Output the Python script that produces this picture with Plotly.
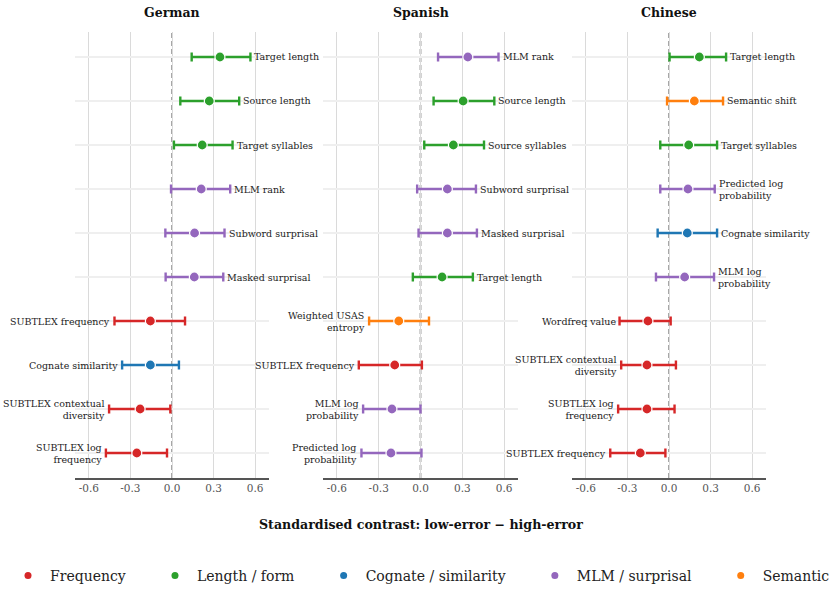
import plotly.graph_objects as go

# ---------------- data ----------------
categories = ["Frequency", "Length / form", "Cognate / similarity", "MLM / surprisal", "Semantic"]
cat_colors = ["#d62728", "#2ca02c", "#1f77b4", "#9467bd", "#ff7f0e"]
languages = ["German", "Spanish", "Chinese"]

german_labels = ["Target length", "Source length", "Target syllables", "MLM rank",
                 "Subword surprisal", "Masked surprisal", "SUBTLEX frequency",
                 "Cognate similarity", "SUBTLEX contextual<br>diversity", "SUBTLEX log<br>frequency"]
german_cat = ["Length / form", "Length / form", "Length / form", "MLM / surprisal",
              "MLM / surprisal", "MLM / surprisal", "Frequency",
              "Cognate / similarity", "Frequency", "Frequency"]
german_est = [0.346, 0.269, 0.218, 0.211, 0.163, 0.161, -0.156, -0.156, -0.230, -0.254]
german_lo = [0.142, 0.060, 0.014, -0.007, -0.048, -0.046, -0.415, -0.360, -0.454, -0.477]
german_hi = [0.566, 0.485, 0.437, 0.420, 0.379, 0.370, 0.094, 0.050, -0.012, -0.036]

spanish_labels = ["MLM rank", "Source length", "Source syllables", "Subword surprisal",
                  "Masked surprisal", "Target length", "Weighted USAS<br>entropy",
                  "SUBTLEX frequency", "MLM log<br>probability", "Predicted log<br>probability"]
spanish_cat = ["MLM / surprisal", "Length / form", "Length / form", "MLM / surprisal",
               "MLM / surprisal", "Length / form", "Semantic",
               "Frequency", "MLM / surprisal", "MLM / surprisal"]
spanish_est = [0.340, 0.306, 0.236, 0.193, 0.193, 0.155, -0.156, -0.185, -0.205, -0.212]
spanish_lo = [0.126, 0.094, 0.027, -0.024, -0.014, -0.055, -0.369, -0.443, -0.412, -0.424]
spanish_hi = [0.560, 0.530, 0.456, 0.398, 0.405, 0.376, 0.061, 0.010, 0.000, 0.007]

chinese_labels = ["Target length", "Semantic shift", "Target syllables", "Predicted log<br>probability",
                  "Cognate similarity", "MLM log<br>probability", "Wordfreq value",
                  "SUBTLEX contextual<br>diversity", "SUBTLEX log<br>frequency", "SUBTLEX frequency"]
chinese_cat = ["Length / form", "Semantic", "Length / form", "MLM / surprisal",
               "Cognate / similarity", "MLM / surprisal", "Frequency",
               "Frequency", "Frequency", "Frequency"]
chinese_est = [0.219, 0.183, 0.142, 0.137, 0.132, 0.113, -0.152, -0.159, -0.159, -0.207]
chinese_lo = [0.004, -0.014, -0.063, -0.063, -0.082, -0.094, -0.357, -0.345, -0.367, -0.424]
chinese_hi = [0.412, 0.390, 0.347, 0.330, 0.347, 0.325, 0.012, 0.050, 0.040, -0.026]

tick_vals = [-0.6, -0.3, 0.0, 0.3, 0.6]
tick_text = ["-0.6", "-0.3", "0.0", "0.3", "0.6"]
x_title = "Standardised contrast: low-error \u2212 high-error"

panels = [
    (german_labels, german_cat, german_est, german_lo, german_hi),
    (spanish_labels, spanish_cat, spanish_est, spanish_lo, spanish_hi),
    (chinese_labels, chinese_cat, chinese_est, chinese_lo, chinese_hi),
]

# ---------------- layout geometry ----------------
W, H = 835, 592
ML, MR, MT, MB = 0, 0, 32, 114
panel_px = [(75, 269), (323, 518), (572, 766)]
domains = [[a / W, b / W] for a, b in panel_px]
plot_h = H - MT - MB
bottom_px = H - MB


def paper_y(py):
    return (bottom_px - py) / plot_h


FONT = "DejaVu Serif"
color_of = dict(zip(categories, cat_colors))
PAD = "\u00a0" * 5

fig = go.Figure()
annotations = []
shapes = []

for p, (labels, cats, est, lo, hi) in enumerate(panels):
    xa = "x" if p == 0 else f"x{p+1}"
    ya = "y" if p == 0 else f"y{p+1}"
    rows = list(range(1, len(labels) + 1))
    for cat in categories:
        idx = [i for i, c in enumerate(cats) if c == cat]
        if not idx:
            continue
        fig.add_trace(go.Scatter(
            x=[est[i] for i in idx], y=[rows[i] for i in idx],
            mode="markers", xaxis=xa, yaxis=ya, showlegend=False,
            marker=dict(size=10, color=color_of[cat], line=dict(color="white", width=1.2)),
            error_x=dict(type="data", symmetric=False,
                         array=[hi[i] - est[i] for i in idx],
                         arrayminus=[est[i] - lo[i] for i in idx],
                         color=color_of[cat], thickness=2.4, width=4.5),
            hoverinfo="skip",
        ))
    for i, lab in enumerate(labels):
        if est[i] > 0:
            annotations.append(dict(x=hi[i], y=rows[i], xref=xa, yref=ya, text=lab,
                                    xanchor="left", yanchor="middle", align="left",
                                    xshift=2, showarrow=False,
                                    font=dict(family=FONT, size=9.5, color="#222")))
        else:
            annotations.append(dict(x=lo[i], y=rows[i], xref=xa, yref=ya, text=lab,
                                    xanchor="right", yanchor="middle", align="right",
                                    xshift=-2, showarrow=False,
                                    font=dict(family=FONT, size=9.5, color="#222")))
    zl = dict(color="#8a8a8a", width=1.5, dash="5px,3px")
    if p == 1:
        zl = dict(color="#c4c4c4", width=2.5, dash="5px,3px")
    shapes.append(dict(type="line", xref=xa, yref=f"{ya} domain", x0=0, x1=0, y0=0, y1=1,
                       line=zl, layer="below"))
    annotations.append(dict(x=(domains[p][0] + domains[p][1]) / 2, y=paper_y(12),
                            xref="paper", yref="paper", text=f"<b>{languages[p]}</b>",
                            showarrow=False, xanchor="center", yanchor="middle",
                            font=dict(family=FONT, size=12.5, color="#111")))

for k, (cat, col) in enumerate(zip(categories, cat_colors)):
    fig.add_trace(go.Scatter(x=[None], y=[None], mode="markers",
                             name=cat + (PAD if k < len(categories) - 1 else ""),
                             marker=dict(size=7, color=col), showlegend=True))

annotations.append(dict(x=421 / W, y=paper_y(524), xref="paper", yref="paper",
                        text=f"<b>{x_title}</b>", showarrow=False,
                        xanchor="center", yanchor="middle",
                        font=dict(family=FONT, size=12.6, color="#111")))

layout = dict(
    width=W, height=H,
    margin=dict(l=ML, r=MR, t=MT, b=MB),
    plot_bgcolor="white", paper_bgcolor="white",
    font=dict(family=FONT, color="#222"),
    annotations=annotations, shapes=shapes,
    legend=dict(orientation="h", x=8 / W, xanchor="left", y=paper_y(576),
                yanchor="middle", font=dict(family=FONT, size=14, color="#222"),
                itemsizing="trace", itemwidth=34, bgcolor="rgba(0,0,0,0)"),
)
for p in range(3):
    xk = "xaxis" if p == 0 else f"xaxis{p+1}"
    yk = "yaxis" if p == 0 else f"yaxis{p+1}"
    ya = "y" if p == 0 else f"y{p+1}"
    xa = "x" if p == 0 else f"x{p+1}"
    layout[xk] = dict(domain=domains[p], anchor=ya, range=[-0.7, 0.7],
                      tickvals=tick_vals, ticktext=tick_text, ticks="",
                      showgrid=True, gridcolor="#dadada", gridwidth=1,
                      zeroline=False, showline=True, linecolor="#555", linewidth=1.5,
                      tickfont=dict(family=FONT, size=10.5, color="#555"),
                      fixedrange=True)
    layout[yk] = dict(domain=[0, 1], anchor=xa, range=[10.568, 0.432],
                      tickvals=list(range(1, 11)), showticklabels=False, ticks="",
                      showgrid=True, gridcolor="#efefef", gridwidth=1.5,
                      zeroline=False, showline=False, fixedrange=True)

fig.update_layout(**layout)
fig.write_html("out.html")
